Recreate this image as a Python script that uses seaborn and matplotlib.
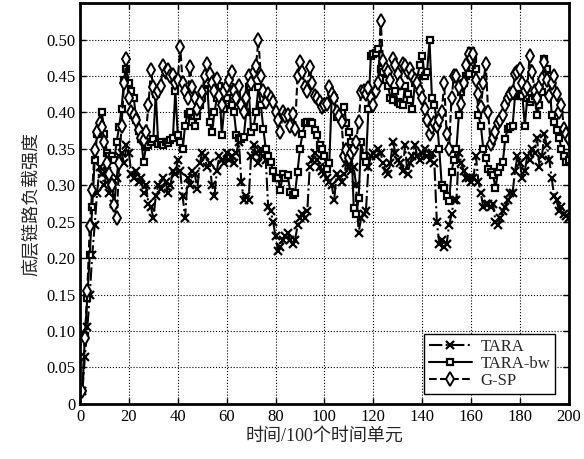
import numpy as np
import pandas as pd
import matplotlib
matplotlib.use("Agg")
import matplotlib.pyplot as plt
import seaborn as sns

x_vals = list(range(1, 201))

tara = [
    0.018, 0.065, 0.105, 0.150, 0.205, 0.245, 0.290, 0.325, 0.315, 0.300,
    0.320, 0.290, 0.300, 0.275, 0.310, 0.340, 0.345, 0.330, 0.355, 0.345,
    0.315, 0.310, 0.320, 0.305, 0.310, 0.290, 0.300, 0.275, 0.270, 0.255,
    0.285, 0.300, 0.295, 0.310, 0.305, 0.290, 0.300, 0.320, 0.315, 0.335,
    0.320, 0.285, 0.255, 0.310, 0.300, 0.320, 0.315, 0.295, 0.330, 0.345,
    0.340, 0.325, 0.330, 0.300, 0.285, 0.320, 0.340, 0.335, 0.330, 0.345,
    0.335, 0.340, 0.330, 0.345, 0.360, 0.305, 0.280, 0.285, 0.280, 0.340,
    0.355, 0.345, 0.330, 0.350, 0.340, 0.335, 0.270, 0.265, 0.250, 0.230,
    0.210, 0.215, 0.225, 0.230, 0.235, 0.225, 0.220, 0.225, 0.245, 0.255,
    0.260, 0.255, 0.265, 0.325, 0.335, 0.345, 0.335, 0.325, 0.320, 0.315,
    0.310, 0.305, 0.300, 0.280, 0.315, 0.310, 0.305, 0.315, 0.330, 0.325,
    0.320, 0.325, 0.300, 0.235, 0.255, 0.260, 0.265, 0.325, 0.340, 0.345,
    0.340, 0.350, 0.345, 0.330, 0.320, 0.315, 0.330, 0.360, 0.345, 0.335,
    0.330, 0.320, 0.355, 0.315, 0.330, 0.340, 0.355, 0.340, 0.335, 0.345,
    0.350, 0.340, 0.335, 0.345, 0.330, 0.250, 0.220, 0.225, 0.215, 0.220,
    0.245, 0.260, 0.280, 0.280, 0.345, 0.330, 0.320, 0.310, 0.310, 0.305,
    0.310, 0.340, 0.305, 0.290, 0.270, 0.275, 0.275, 0.270, 0.275, 0.250,
    0.245, 0.255, 0.265, 0.270, 0.280, 0.290, 0.290, 0.320, 0.340, 0.330,
    0.310, 0.320, 0.340, 0.335, 0.350, 0.345, 0.365, 0.325, 0.340, 0.370,
    0.355, 0.335, 0.310, 0.285, 0.280, 0.265, 0.270, 0.260, 0.258, 0.255,
]

tara_bw = [
    0.018, 0.093, 0.146, 0.205, 0.270, 0.335, 0.370, 0.380, 0.400, 0.370,
    0.345, 0.340, 0.340, 0.335, 0.360, 0.380, 0.405, 0.444, 0.460, 0.440,
    0.430, 0.420, 0.390, 0.375, 0.364, 0.332, 0.353, 0.355, 0.360, 0.364,
    0.426, 0.357, 0.360, 0.355, 0.360, 0.358, 0.362, 0.365, 0.430, 0.369,
    0.360, 0.350, 0.382, 0.398, 0.400, 0.387, 0.382, 0.395, 0.410, 0.420,
    0.430, 0.440, 0.387, 0.373, 0.400, 0.420, 0.437, 0.369, 0.405, 0.420,
    0.428, 0.410, 0.400, 0.369, 0.365, 0.364, 0.367, 0.400, 0.435, 0.373,
    0.380, 0.400, 0.435, 0.410, 0.378, 0.350, 0.340, 0.332, 0.320, 0.310,
    0.310, 0.294, 0.316, 0.310, 0.314, 0.291, 0.287, 0.290, 0.319, 0.350,
    0.370, 0.385, 0.387, 0.387, 0.385, 0.376, 0.369, 0.355, 0.350, 0.340,
    0.323, 0.330, 0.423, 0.420, 0.394, 0.398, 0.400, 0.407, 0.385, 0.373,
    0.360, 0.269, 0.260, 0.282, 0.360, 0.340, 0.332, 0.405, 0.478, 0.480,
    0.482, 0.487, 0.460, 0.455, 0.445, 0.437, 0.420, 0.417, 0.430, 0.415,
    0.412, 0.410, 0.437, 0.425, 0.417, 0.405, 0.440, 0.448, 0.465, 0.478,
    0.450, 0.455, 0.499, 0.420, 0.410, 0.390, 0.350, 0.300, 0.296, 0.285,
    0.278, 0.319, 0.335, 0.350, 0.396, 0.428, 0.440, 0.450, 0.453, 0.485,
    0.474, 0.460, 0.396, 0.382, 0.350, 0.337, 0.323, 0.318, 0.314, 0.296,
    0.319, 0.325, 0.332, 0.364, 0.378, 0.380, 0.382, 0.423, 0.426, 0.425,
    0.423, 0.382, 0.420, 0.414, 0.418, 0.423, 0.396, 0.410, 0.428, 0.474,
    0.460, 0.450, 0.396, 0.387, 0.376, 0.365, 0.350, 0.340, 0.332, 0.335,
]

gsp = [
    0.018, 0.090, 0.155, 0.244, 0.294, 0.348, 0.373, 0.385, 0.380, 0.360,
    0.330, 0.315, 0.300, 0.273, 0.255, 0.330, 0.382, 0.440, 0.474, 0.420,
    0.400, 0.396, 0.390, 0.376, 0.365, 0.362, 0.373, 0.410, 0.458, 0.435,
    0.426, 0.430, 0.437, 0.464, 0.455, 0.458, 0.450, 0.452, 0.440, 0.445,
    0.490, 0.440, 0.430, 0.420, 0.462, 0.435, 0.420, 0.405, 0.415, 0.428,
    0.450, 0.467, 0.453, 0.440, 0.430, 0.446, 0.423, 0.410, 0.430, 0.437,
    0.445, 0.455, 0.430, 0.420, 0.437, 0.410, 0.400, 0.420, 0.450, 0.440,
    0.455, 0.464, 0.499, 0.450, 0.430, 0.414, 0.426, 0.420, 0.414, 0.400,
    0.390, 0.373, 0.400, 0.395, 0.396, 0.382, 0.398, 0.378, 0.450, 0.469,
    0.455, 0.435, 0.430, 0.462, 0.440, 0.423, 0.420, 0.415, 0.407, 0.410,
    0.412, 0.435, 0.425, 0.420, 0.400, 0.395, 0.387, 0.340, 0.348, 0.337,
    0.345, 0.350, 0.360, 0.387, 0.428, 0.430, 0.425, 0.433, 0.420, 0.410,
    0.430, 0.440, 0.526, 0.470, 0.460, 0.455, 0.445, 0.474, 0.465, 0.453,
    0.440, 0.467, 0.464, 0.455, 0.460, 0.450, 0.444, 0.440, 0.430, 0.420,
    0.405, 0.390, 0.371, 0.380, 0.385, 0.382, 0.390, 0.400, 0.440, 0.371,
    0.350, 0.420, 0.450, 0.450, 0.435, 0.412, 0.440, 0.465, 0.480, 0.475,
    0.480, 0.444, 0.425, 0.407, 0.440, 0.467, 0.400, 0.357, 0.365, 0.373,
    0.385, 0.390, 0.396, 0.410, 0.420, 0.425, 0.428, 0.453, 0.455, 0.460,
    0.440, 0.430, 0.435, 0.478, 0.455, 0.430, 0.420, 0.435, 0.446, 0.469,
    0.445, 0.423, 0.440, 0.450, 0.425, 0.400, 0.410, 0.378, 0.370, 0.364,
]

series_names = ["TARA", "TARA-bw", "G-SP"]
x_ticks = list(range(0, 201, 20))
y_ticks = [0, 0.05, 0.10, 0.15, 0.20, 0.25, 0.30, 0.35, 0.40, 0.45, 0.50]
y_ticklabels = ["0", "0.05", "0.10", "0.15", "0.20", "0.25", "0.30", "0.35", "0.40", "0.45", "0.50"]

sns.set_style("ticks")
plt.rcParams["font.family"] = ["Liberation Serif", "Noto Sans CJK SC", "DejaVu Sans"]
plt.rcParams["xtick.direction"] = "in"
plt.rcParams["ytick.direction"] = "in"

fig = plt.figure(figsize=(5.84, 4.59), dpi=100)
ax = fig.add_axes([0.137, 0.120, 0.837, 0.873])

styles = [
    dict(marker="x", linestyle="-.", markersize=5.5, mew=1.6),
    dict(marker="s", linestyle="-", markersize=5, mew=1.6, mfc="white"),
    dict(marker="d", linestyle="--", markersize=7, mew=1.4, mfc="white"),
]
for name, vals, st in zip(series_names, [tara, tara_bw, gsp], styles):
    sns.lineplot(x=x_vals, y=vals, ax=ax, color="black", linewidth=1.5,
                 label=name, mec="black", **st)

ax.set_xlim(0, 200)
ax.set_ylim(0, 0.55)
ax.set_xticks(x_ticks)
ax.set_yticks(y_ticks)
ax.set_yticklabels(y_ticklabels)
ax.tick_params(labelsize=12, length=4, width=1, colors="black", top=True, right=True)
ax.grid(True, linestyle=":", color="black", linewidth=0.8)
for sp in ax.spines.values():
    sp.set_linewidth(2)
    sp.set_color("black")
    sp.set_visible(True)

ax.set_xlabel("时间/100个时间单元", fontsize=13, labelpad=2)
ax.set_ylabel("底层链路负载强度", fontsize=13, labelpad=4)

leg = ax.legend(loc="lower right", bbox_to_anchor=(0.972, 0.025), borderaxespad=0,
                fancybox=False, edgecolor="black", framealpha=1, fontsize=12,
                handlelength=2.6, labelspacing=0.05, borderpad=0.3, handletextpad=0.5)
leg.get_frame().set_linewidth(1.0)

fig.savefig("out.png", dpi=100)
